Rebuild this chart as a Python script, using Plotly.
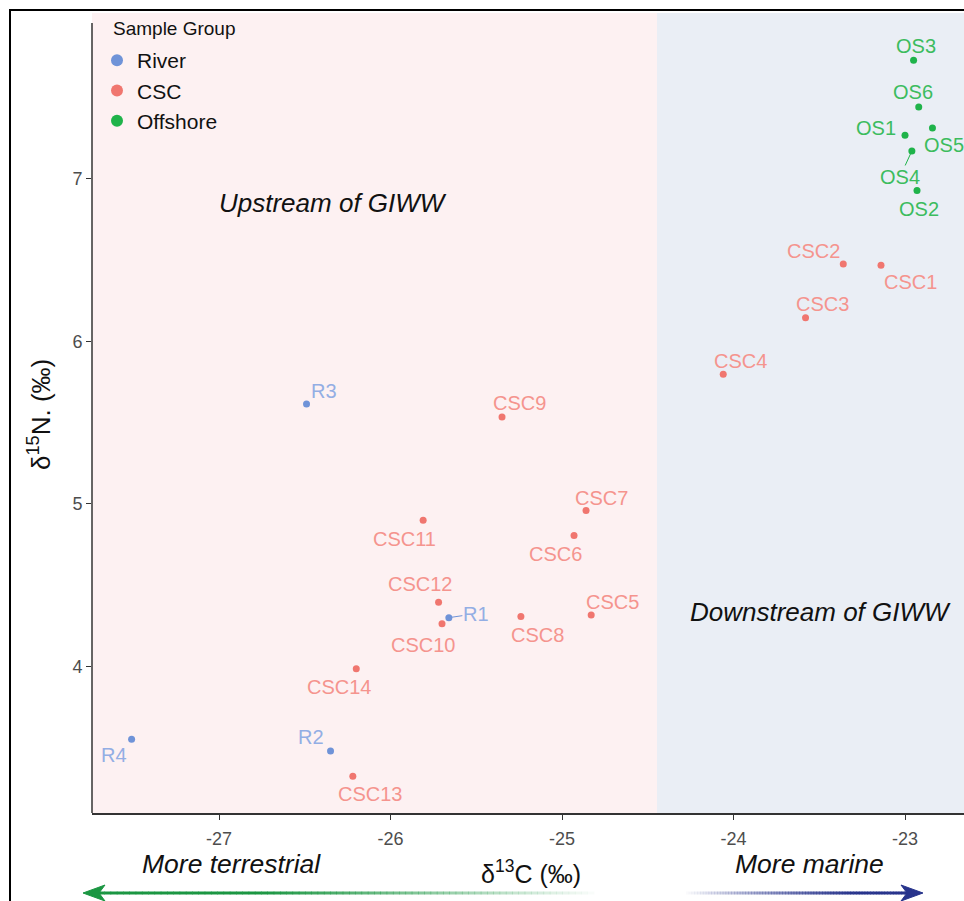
import plotly.graph_objects as go

# ---- data: stable isotope values per sample ----
river_id = ["R1", "R2", "R3", "R4"]
river_d13c = [-25.66, -26.35, -26.49, -27.51]
river_d15n = [4.30, 3.48, 5.615, 3.552]

csc_id = ["CSC1", "CSC2", "CSC3", "CSC4", "CSC5", "CSC6", "CSC7",
          "CSC8", "CSC9", "CSC10", "CSC11", "CSC12", "CSC13", "CSC14"]
csc_d13c = [-23.14, -23.36, -23.58, -24.06, -24.83, -24.93, -24.86,
            -25.24, -25.35, -25.70, -25.81, -25.72, -26.22, -26.20]
csc_d15n = [6.469, 6.477, 6.145, 5.798, 4.317, 4.805, 4.959,
            4.307, 5.535, 4.263, 4.900, 4.395, 3.324, 3.985]

os_id = ["OS1", "OS2", "OS3", "OS4", "OS5", "OS6"]
os_d13c = [-23.00, -22.93, -22.95, -22.96, -22.84, -22.92]
os_d15n = [7.269, 6.928, 7.730, 7.172, 7.314, 7.443]

x_ticks = [-27, -26, -25, -24, -23]
y_ticks = [4, 5, 6, 7]

# boundary between upstream and downstream of the GIWW (d13C)
giww_split = -24.446

# ---- layout constants ----
W, H = 964, 901
ML, MR, MT, MB = 92, 0, 13, 88
PW, PH = W - ML - MR, H - MT - MB
X_RANGE = [-27.741, -22.656]
Y_RANGE = [3.098, 8.021]

FONT = "Arial, Liberation Sans, sans-serif"

groups = [
    dict(name="River", ids=river_id, x=river_d13c, y=river_d15n,
         point="#6F93D8", text="#93AEE4"),
    dict(name="CSC", ids=csc_id, x=csc_d13c, y=csc_d15n,
         point="#F0766F", text="#F5948E"),
    dict(name="Offshore", ids=os_id, x=os_d13c, y=os_d15n,
         point="#1FB34A", text="#3CBC5E"),
]

# label placement relative to each point, in pixels (dx right, dy down)
label_offset = {
    "OS3": (2, -14), "OS6": (-6, -15), "OS1": (-29, -7), "OS5": (12, 17),
    "OS2": (2, 18),
    "CSC2": (-30, -13), "CSC1": (29, 17), "CSC3": (17, -14), "CSC4": (17, -13),
    "CSC7": (15, -13), "CSC11": (-19, 19), "CSC6": (-19, 18), "CSC12": (-19, -18),
    "CSC10": (-19, 21), "CSC8": (17, 18), "CSC5": (21, -13), "CSC14": (-17, 18),
    "CSC13": (17, 18), "CSC9": (17, -14),
    "R4": (-18, 16), "R2": (-20, -14), "R3": (17, -13),
}
# labels pulled away from their point with a leader segment
leader_offset = {"R1": (27, -4), "OS4": (-12, 26)}


def px2paper(px, py):
    return (px - ML) / PW, (H - MB - py) / PH


fig = go.Figure()

for g in groups:
    fig.add_trace(go.Scatter(
        x=g["x"], y=g["y"], mode="markers", name=g["name"],
        marker=dict(color=g["point"], size=7, line=dict(width=0)),
    ))

annotations = []
for g in groups:
    for sid, xv, yv in zip(g["ids"], g["x"], g["y"]):
        if sid in leader_offset:
            ax, ay = leader_offset[sid]
            annotations.append(dict(
                x=xv, y=yv, xref="x", yref="y", text=sid, showarrow=True,
                ax=ax, ay=ay, arrowhead=0, arrowwidth=1, arrowcolor=g["point"],
                standoff=3, font=dict(family=FONT, size=20, color=g["text"]),
                borderpad=0,
            ))
        else:
            dx, dy = label_offset[sid]
            annotations.append(dict(
                x=xv, y=yv, xref="x", yref="y", text=sid, showarrow=False,
                xshift=dx, yshift=-dy, xanchor="center", yanchor="middle",
                font=dict(family=FONT, size=20, color=g["text"]),
            ))

# region labels
annotations += [
    dict(x=-26.335, y=6.852, xref="x", yref="y", showarrow=False,
         xanchor="center", yanchor="middle",
         text="<i>Upstream of GIWW</i>",
         font=dict(family=FONT, size=26, color="#111111")),
    dict(x=-23.49, y=4.335, xref="x", yref="y", showarrow=False,
         xanchor="center", yanchor="middle",
         text="<i>Downstream of GIWW</i>",
         font=dict(family=FONT, size=26, color="#111111")),
]


def paper_text(px, py, text, size, angle=0, anchor="center"):
    tx, ty = px2paper(px, py)
    annotations.append(dict(x=tx, y=ty, xref="paper", yref="paper",
                            showarrow=False, xanchor=anchor, yanchor="middle",
                            text=text, textangle=angle,
                            font=dict(family=FONT, size=size, color="#111111")))


# axis titles
paper_text(531, 872, "δ<sup>13</sup>C (‰)", 25)
paper_text(40, 415, "δ<sup>15</sup>N. (‰)", 26, angle=-90)
# direction captions under the axis
paper_text(231, 864, "<i>More terrestrial</i>", 26.5)
paper_text(809, 864, "<i>More marine</i>", 26.5)
# legend heading
paper_text(111, 28, "Sample Group", 19, anchor="left")

shapes = [
    # shaded regions either side of the split
    dict(type="rect", xref="x", yref="paper", x0=X_RANGE[0], x1=giww_split,
         y0=0, y1=1, fillcolor="#FDF1F2", line=dict(width=0), layer="below"),
    dict(type="rect", xref="x", yref="paper", x0=giww_split, x1=X_RANGE[1],
         y0=0, y1=1, fillcolor="#EAEEF5", line=dict(width=0), layer="below"),
]

# y axis line (starts a little below the panel top)
_, ytop = px2paper(ML, 23)
shapes.append(dict(type="line", xref="paper", yref="paper", x0=0, x1=0,
                   y0=0, y1=ytop, line=dict(color="#333333", width=1.5)))

# outer frame
fx0, fy0 = px2paper(10, 10)
fx1, fy1 = px2paper(1010, 960)
shapes.append(dict(type="rect", xref="paper", yref="paper", x0=fx0, x1=fx1,
                   y0=fy1, y1=fy0, line=dict(color="#000000", width=2),
                   fillcolor="rgba(0,0,0,0)"))


def fading_line(x_start, x_end, y, rgb, alpha_fn, n=80, width=3):
    step = (x_end - x_start) / n
    for i in range(n):
        a = x_start + i * step
        b = a + step
        mid = (a + b) / 2
        alpha = max(0.0, min(1.0, alpha_fn(mid)))
        if alpha <= 0.01:
            continue
        p0 = px2paper(a, y)
        p1 = px2paper(b + 0.6, y)
        shapes.append(dict(type="line", xref="paper", yref="paper",
                           x0=p0[0], x1=p1[0], y0=p0[1], y1=p1[1],
                           line=dict(color=f"rgba({rgb},{alpha:.3f})", width=width)))


def arrow_head(points, color):
    pts = [px2paper(px, py) for px, py in points]
    path = "M " + " L ".join(f"{p[0]:.5f},{p[1]:.5f}" for p in pts) + " Z"
    shapes.append(dict(type="path", xref="paper", yref="paper", path=path,
                       fillcolor=color, line=dict(color=color, width=1)))


AY = 893
green = "27,150,66"
navy = "40,52,140"
fading_line(98, 600, AY, green, lambda x: 1.0 if x < 260 else (600 - x) / 340)
arrow_head([(83, AY), (105, AY - 8), (99, AY), (105, AY + 8)], "rgb(27,150,66)")
fading_line(683, 910, AY, navy, lambda x: (x - 683) / 170)
arrow_head([(923, AY), (901, AY - 8), (907, AY), (901, AY + 8)], "rgb(40,52,140)")

fig.update_layout(
    width=W, height=H,
    margin=dict(l=ML, r=MR, t=MT, b=MB, pad=0),
    paper_bgcolor="white", plot_bgcolor="rgba(0,0,0,0)",
    font=dict(family=FONT, color="#4D4D4D"),
    showlegend=True,
    legend=dict(
        font=dict(family=FONT, size=21, color="#111111"),
        x=px2paper(97, 0)[0], y=px2paper(0, 40)[1], xanchor="left", yanchor="top",
        bgcolor="rgba(0,0,0,0)", itemsizing="constant", tracegroupgap=0,
        itemwidth=30,
    ),
    annotations=annotations,
    shapes=shapes,
    xaxis=dict(
        range=X_RANGE, tickvals=x_ticks, ticktext=[str(v) for v in x_ticks],
        showgrid=False, zeroline=False, showline=True, linecolor="#333333",
        linewidth=1.5, ticks="outside", ticklen=5, tickcolor="#333333",
        ticklabelstandoff=4,
        tickfont=dict(family=FONT, size=18, color="#4D4D4D"),
    ),
    yaxis=dict(
        range=Y_RANGE, tickvals=y_ticks, ticktext=[str(v) for v in y_ticks],
        showgrid=False, zeroline=False, showline=False,
        ticks="outside", ticklen=5, tickcolor="#333333",
        tickfont=dict(family=FONT, size=18, color="#4D4D4D"),
    ),
)

fig.write_html("out.html")
